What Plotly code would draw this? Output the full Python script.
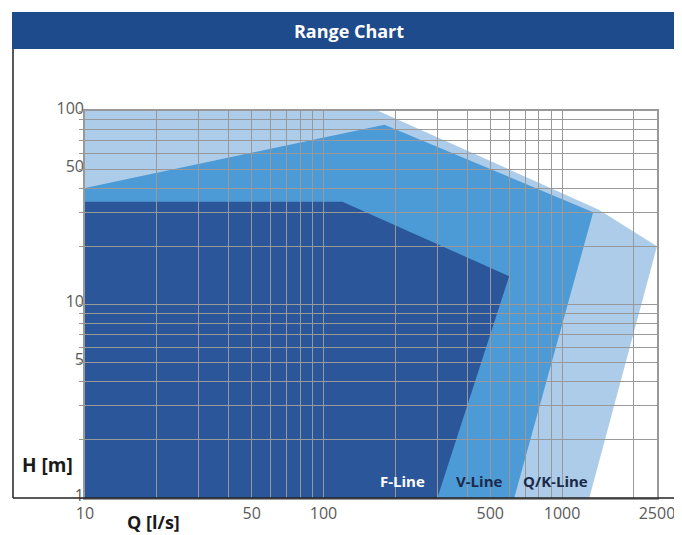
import math
import plotly.graph_objects as go

# ---- data (Q in l/s, H in m) ----
qk_q = [10, 10, 170, 1420, 2500, 1300]
qk_h = [1, 100, 100, 31, 20, 1]

v_q = [10, 10, 180, 1350, 630]
v_h = [1, 40, 85, 30, 1]

f_q = [10, 10, 120, 600, 300]
f_h = [1, 34, 34, 14, 1]

series_names = ["Q/K-Line", "V-Line", "F-Line"]
series_colors = ["#adcce9", "#4c9bd6", "#2b579a"]

x_tick_vals = [10, 50, 100, 500, 1000, 2500]
x_tick_text = ["10", "50", "100", "500", "1000", "2500"]
y_tick_vals = [1, 5, 10, 50, 100]
y_tick_text = ["1", "5", "10", "50", "100"]

x_min, x_max = 10, 2500
y_min, y_max = 1, 100

FONT = "Open Sans"

fig = go.Figure()
for name, qs, hs, col in zip(series_names, [qk_q, v_q, f_q], [qk_h, v_h, f_h], series_colors):
    fig.add_trace(go.Scatter(
        x=qs, y=hs, fill="toself", mode="lines", line=dict(width=0, color=col),
        fillcolor=col, name=name, showlegend=False, hoverinfo="skip"))

# empty trace on the grid-overlay subplot (its grid is drawn above the fills)
fig.add_trace(go.Scatter(x=[], y=[], xaxis="x2", yaxis="y2", showlegend=False, hoverinfo="skip"))

xr = [math.log10(x_min), math.log10(x_max)]
yr = [math.log10(y_min), math.log10(y_max)]
tickfont = dict(family=FONT, size=16, color="#5a5a5a")
GRID = "#999999"

# page body has an 8px offset; plot area sits at window x 85..657, y 111..498
fig.update_layout(
    width=682, height=535,
    margin=dict(l=77, r=33, t=103, b=45),
    paper_bgcolor="white", plot_bgcolor="rgba(0,0,0,0)",
    title=dict(text="<b>Range Chart</b>", x=0.5, xref="container", xanchor="center",
               y=1 - 24 / 535, yref="container", yanchor="middle",
               font=dict(family=FONT, size=18, color="white")),
    xaxis=dict(type="log", range=xr, domain=[0, 1], anchor="y",
               tickvals=x_tick_vals, ticktext=x_tick_text, showgrid=False,
               showline=False, zeroline=False, ticks="", tickfont=tickfont,
               ticklabelstandoff=4),
    yaxis=dict(type="log", range=yr, domain=[0, 1], anchor="x",
               tickvals=y_tick_vals, ticktext=y_tick_text, showgrid=False,
               showline=False, zeroline=False, ticks="", tickfont=tickfont,
               ticklabelshift=-3),
    xaxis2=dict(type="log", range=xr, domain=[0, 1], anchor="y2", dtick="D1",
                showticklabels=False, showgrid=True, gridcolor=GRID, gridwidth=1,
                showline=True, mirror=True, linecolor=GRID, linewidth=1.5, ticks=""),
    yaxis2=dict(type="log", range=yr, domain=[0, 1], anchor="x2", dtick="D1",
                showticklabels=False, showgrid=True, gridcolor=GRID, gridwidth=1,
                showline=True, mirror=True, linecolor=GRID, linewidth=1.5,
                ticks="outside", ticklen=4, tickcolor=GRID),
    showlegend=False,
)

# helpers: window pixel -> paper coordinate
W, H = 572.0, 387.0
def px(x):
    return (x - 85) / W
def py(y):
    return (498 - y) / H

# title bar and outer frame
fig.add_shape(type="rect", xref="paper", yref="paper", x0=px(12), x1=px(690), y0=py(49), y1=py(12),
              fillcolor="#1e4b8c", line=dict(width=0), layer="below")
fig.add_shape(type="line", xref="paper", yref="paper", x0=px(13), x1=px(13), y0=py(49), y1=py(498),
              line=dict(color="#222222", width=1.5))
fig.add_shape(type="line", xref="paper", yref="paper", x0=px(13), x1=px(690), y0=0, y1=0,
              line=dict(color="#222222", width=1.5))

# series labels
label_pos = [("F-Line", 402, "white"), ("V-Line", 479, "#1b2a4a"), ("Q/K-Line", 555, "#1b2a4a")]
for txt, xpix, col in label_pos:
    fig.add_annotation(text="<b>%s</b>" % txt, xref="paper", yref="paper",
                       x=px(xpix), y=py(481), xanchor="center", yanchor="middle",
                       showarrow=False, font=dict(family=FONT, size=15, color=col))

fig.add_annotation(text="<b>H [m]</b>", xref="paper", yref="paper", x=px(47), y=py(465),
                   xanchor="center", yanchor="middle",
                   showarrow=False, font=dict(family=FONT, size=19, color="#1a1a1a"))
fig.add_annotation(text="<b>Q [l/s]</b>", xref="paper", yref="paper", x=px(153), y=py(522),
                   xanchor="center", yanchor="middle",
                   showarrow=False, font=dict(family=FONT, size=18, color="#1a1a1a"))

fig.write_html("out.html")
